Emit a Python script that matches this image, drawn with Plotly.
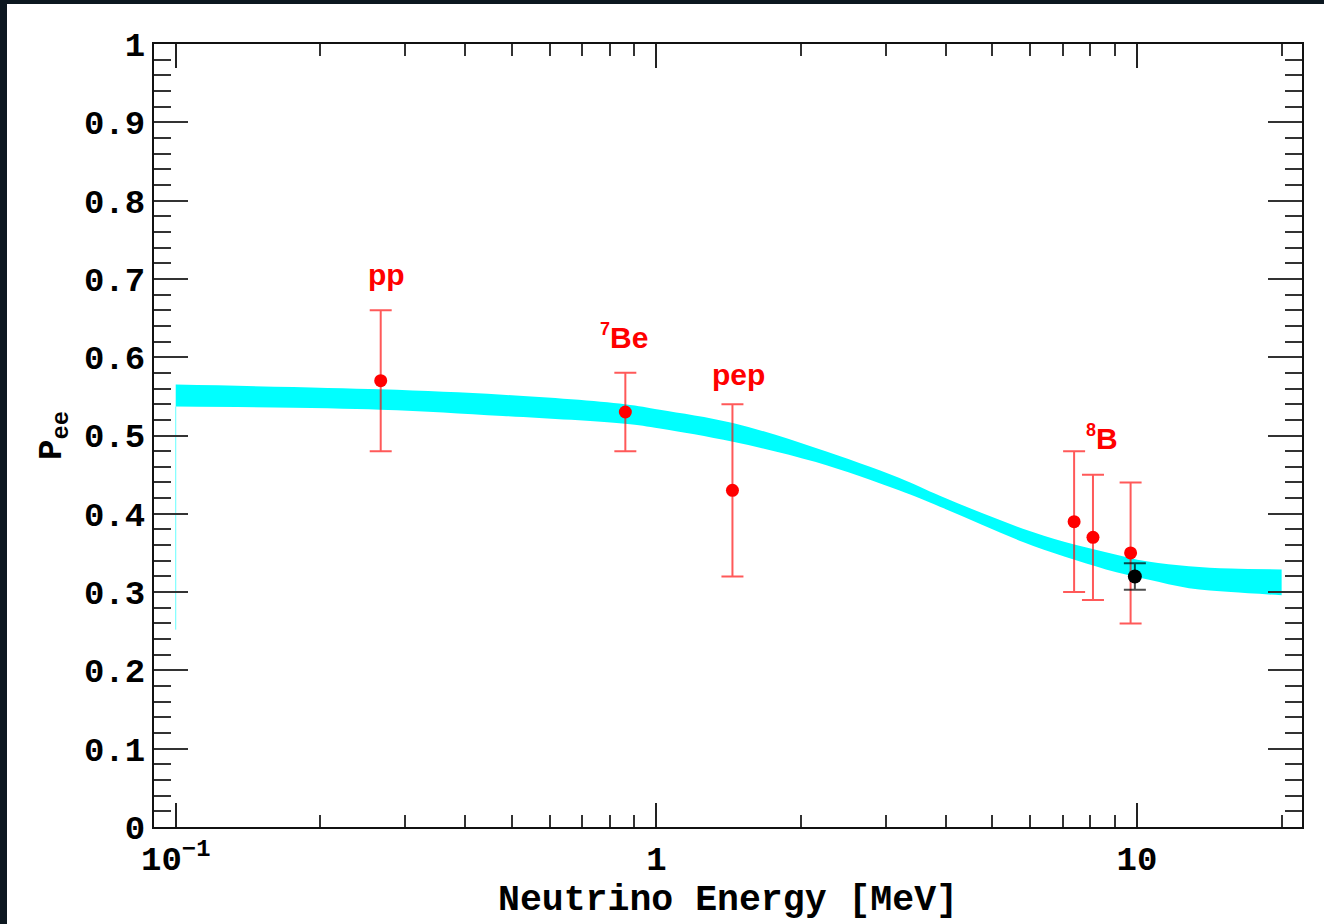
import math
import plotly.graph_objects as go

# Survival-probability band (MSW-LMA prediction): energy [MeV], lower and upper edge
band_energy = [0.1, 0.266, 0.479, 0.860, 1.017, 1.443, 2.147, 3.197, 3.890, 4.758, 5.790,
               7.084, 8.620, 10.54, 12.83, 15.69, 20.0]
band_upper = [0.565, 0.559, 0.552, 0.540, 0.533, 0.516, 0.484, 0.446, 0.423, 0.401, 0.381,
              0.364, 0.351, 0.339, 0.333, 0.330, 0.329]
band_lower = [0.537, 0.533, 0.525, 0.515, 0.509, 0.492, 0.466, 0.430, 0.409, 0.386, 0.364,
              0.345, 0.329, 0.316, 0.305, 0.300, 0.296]

# thin closing edge of the band polygon at the low-energy end
edge_energy = [0.1, 0.1]
edge_pee = [0.537, 0.252]

# Measured Pee per solar-neutrino source
meas_energy = [0.267, 0.862, 1.44, 7.4, 8.1, 9.7]
meas_pee = [0.57, 0.53, 0.43, 0.39, 0.37, 0.35]
meas_err = [0.09, 0.05, 0.11, 0.09, 0.08, 0.09]

# Combined high-energy 8B measurement
comb_energy = [9.9]
comb_pee = [0.32]
comb_err = [0.017]

# Source labels and where they sit
label_text = ["pp", "<sup><span style='font-size:18px'>7</span></sup>Be", "pep",
              "<sup><span style='font-size:18px'>8</span></sup>B"]
label_energy = [0.275, 0.856, 1.485, 8.46]
label_pee = [0.706, 0.626, 0.578, 0.498]

# Axis ticks
x_major = [0.1, 1, 10]
x_major_text = ["10<sup>\u22121</sup>", "1", "10"]
x_minor = [0.2, 0.3, 0.4, 0.5, 0.6, 0.7, 0.8, 0.9, 2, 3, 4, 5, 6, 7, 8, 9, 20]

CYAN = "#00ffff"
TICK_FONT = dict(family="Liberation Mono", size=34, color="black", weight="bold")

fig = go.Figure()

fig.add_trace(go.Scatter(x=band_energy, y=band_lower, mode="lines",
                         line=dict(width=0, color=CYAN, shape="spline"),
                         hoverinfo="skip", showlegend=False))
fig.add_trace(go.Scatter(x=band_energy, y=band_upper, mode="lines",
                         line=dict(width=0, color=CYAN, shape="spline"),
                         fill="tonexty", fillcolor=CYAN,
                         hoverinfo="skip", showlegend=False))
fig.add_trace(go.Scatter(x=edge_energy, y=edge_pee, mode="lines",
                         line=dict(width=1, color="rgba(0,255,255,0.6)"),
                         hoverinfo="skip", showlegend=False))

fig.add_trace(go.Scatter(x=meas_energy, y=meas_pee, mode="markers",
                         marker=dict(color="#ff0000", size=13),
                         error_y=dict(type="data", array=meas_err, visible=True,
                                      color="rgba(255,0,0,0.65)", thickness=2, width=11),
                         showlegend=False))
fig.add_trace(go.Scatter(x=comb_energy, y=comb_pee, mode="markers",
                         marker=dict(color="#000000", size=14),
                         error_y=dict(type="data", array=comb_err, visible=True,
                                      color="rgba(0,0,0,0.7)", thickness=2, width=11),
                         showlegend=False))

# annotations on a log axis take log10 positions
for txt, e, p in zip(label_text, label_energy, label_pee):
    fig.add_annotation(x=math.log10(e), y=p, xref="x", yref="y", text=txt, showarrow=False,
                       xanchor="center", yanchor="middle",
                       font=dict(family="Liberation Sans", size=30, color="#ff0000", weight="bold"))

fig.update_xaxes(type="log", range=[-1.0452, 1.3434],
                 tickmode="array", tickvals=x_major, ticktext=x_major_text,
                 ticks="inside", ticklen=24, tickwidth=2, tickcolor="#222222",
                 minor=dict(tickmode="array", tickvals=x_minor, ticks="inside",
                            ticklen=12, tickwidth=2, tickcolor="#333333", showgrid=False),
                 showline=True, linewidth=2, linecolor="#111111", mirror="ticks",
                 showgrid=False, zeroline=False, tickfont=TICK_FONT,
                 title=dict(text="Neutrino Energy [MeV]", standoff=0,
                            font=dict(family="Liberation Mono", size=36.5, color="black", weight="bold")))

fig.update_yaxes(range=[0, 1], tickmode="linear", tick0=0, dtick=0.1,
                 ticks="inside", ticklen=34, tickwidth=2, tickcolor="#333333",
                 minor=dict(dtick=0.02, ticks="inside", ticklen=17, tickwidth=2,
                            tickcolor="#333333", showgrid=False),
                 showline=True, linewidth=2, linecolor="#111111", mirror="ticks",
                 showgrid=False, zeroline=False, tickfont=TICK_FONT,
                 title=dict(text="P<sub>ee</sub>", standoff=12,
                            font=dict(family="Liberation Mono", size=34, color="black", weight="bold")))

# dark frame strips along the top and left edges of the page
fig.add_shape(type="rect", xref="paper", yref="paper", layer="below",
              x0=-154 / 1148, x1=1170 / 1148, y0=1 + 40 / 783, y1=1 + 44 / 783,
              fillcolor="#0c1720", line=dict(width=0))
fig.add_shape(type="rect", xref="paper", yref="paper", layer="below",
              x0=-154 / 1148, x1=-147 / 1148, y0=-97 / 783, y1=1 + 44 / 783,
              fillcolor="#0c1720", line=dict(width=0))

fig.update_layout(width=1324, height=924,
                  margin=dict(l=154, r=22, t=44, b=97),
                  paper_bgcolor="white", plot_bgcolor="white",
                  showlegend=False)

fig.write_html("out.html")
